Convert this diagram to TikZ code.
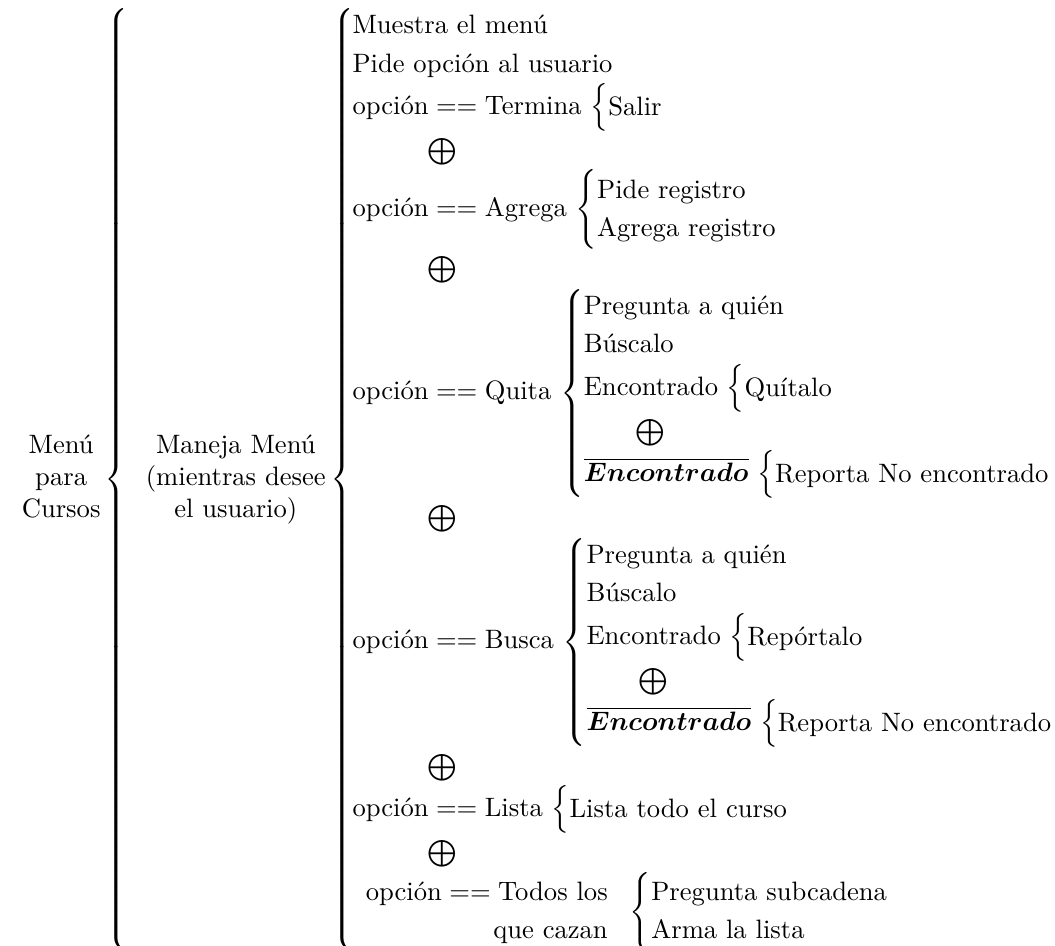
\documentclass[tikz,border=0pt]{standalone}
\usepackage{amsmath}
\usepackage{array}
\usetikzlibrary{calc}
% shorthands for the repeated pieces of the Warnier-Orr chart
\newcommand\opcion{\text{opción}}
\newcommand\exclus{\hspace{28pt}\bigoplus}
\newcommand\subexclus{\hspace{19.5pt}\bigoplus}
\newcommand\noenc{\overline{\boldsymbol{Encontrado}}}
% a brace opening a block of one or more lines
\newcommand\grupo[1]{\,\left\{\begin{array}{@{}l@{}}#1\end{array}\right.}
\begin{document}
\begin{tikzpicture}
\node[overlay, inner sep=0pt, anchor=north west] (chart) at (0,0) {$\displaystyle
\begin{tabular}{c}Menú\\para\\Cursos\end{tabular}\hspace{-6pt}
\left\{\hspace{0.5pt}
\begin{tabular}{c}Maneja Menú\\(mientras desee\\el usuario)\end{tabular}\hspace{-6pt}
\left\{\renewcommand{\arraystretch}{1.2}
\begin{array}{@{\hspace{-0.5pt}}l}
\text{Muestra el menú}\\
\text{Pide opción al usuario}\\
\opcion == \text{Termina}\grupo{\text{Salir}}\\
\exclus\\
\opcion == \text{Agrega}\grupo{\text{Pide registro}\\ \text{Agrega registro}}\\
\exclus\\
\opcion == \text{Quita}\grupo{
  \text{Pregunta a quién}\\
  \text{Búscalo}\\
  \text{Encontrado}\grupo{\text{Quítalo}}\\
  \subexclus\\
  \noenc\grupo{\text{Reporta No encontrado}}}\\
\exclus\\
\opcion == \text{Busca}\grupo{
  \text{Pregunta a quién}\\
  \text{Búscalo}\\
  \text{Encontrado}\grupo{\text{Repórtalo}}\\
  \subexclus\\
  \noenc\grupo{\text{Reporta No encontrado}}}\\
\exclus\\
\opcion == \text{Lista}\grupo{\text{Lista todo el curso}}\\
\exclus\\
\begin{array}{r}\opcion == \text{Todos los}\\ \text{que cazan}\end{array}
\grupo{\text{Pregunta subcadena}\\ \text{Arma la lista}}
\end{array}\right.\right.$};
% page frame: as tall as the chart, raised a little, width in the 1055:946 ratio
\path[use as bounding box] let \p1=(chart.north west), \p2=(chart.south west) in
  ($(\x1-2pt,\y1+2.4pt)$) rectangle ($({\x1-2pt+1.1152*(\y1-\y2)},\y2+2.4pt)$);
\end{tikzpicture}
\end{document}
